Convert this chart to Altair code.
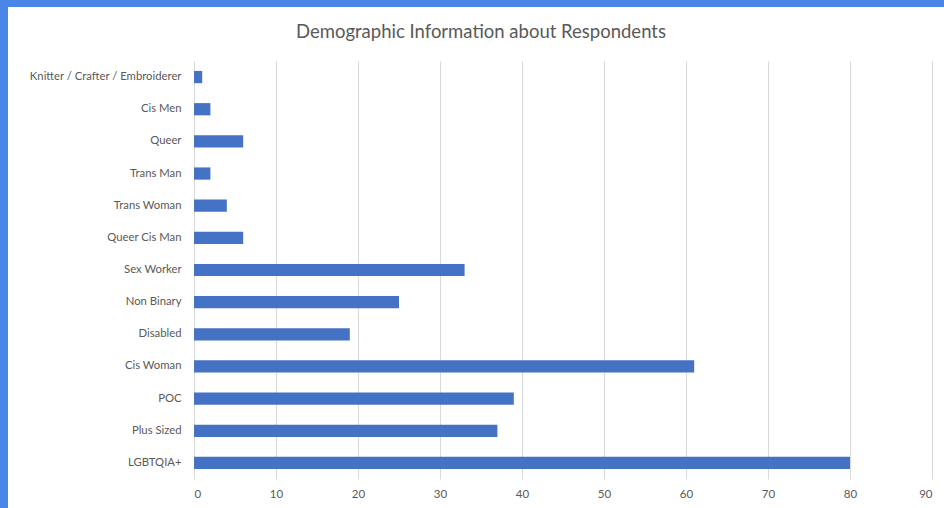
import altair as alt
import pandas as pd

categories = ["Knitter / Crafter / Embroiderer", "Cis Men", "Queer", "Trans Man", "Trans Woman",
              "Queer Cis Man", "Sex Worker", "Non Binary", "Disabled", "Cis Woman", "POC",
              "Plus Sized", "LGBTQIA+"]
counts = [1, 2, 6, 2, 4, 6, 33, 25, 19, 61, 39, 37, 80]
x_ticks = [0, 10, 20, 30, 40, 50, 60, 70, 80, 90]

df = pd.DataFrame({"category": categories, "count": counts})

FONT = "Lato"
GRAY = "#595959"

bars = alt.Chart(df).mark_bar(color="#4472C4").encode(
    x=alt.X("count:Q", scale=alt.Scale(domain=[0, 90], nice=False),
            axis=alt.Axis(values=x_ticks, title=None, grid=True, gridColor="#d9d9d9",
                          domain=False, ticks=False, labelColor=GRAY, labelFont=FONT,
                          labelFontSize=11.5, labelPadding=9)),
    y=alt.Y("category:N", sort=categories,
            scale=alt.Scale(paddingInner=0.62, paddingOuter=0.31),
            axis=alt.Axis(title=None, domain=False, ticks=False, labelColor=GRAY,
                          labelFont=FONT, labelFontSize=11.3, labelPadding=13, labelLimit=300)),
)

frame = pd.DataFrame({"k": [0]})
left_band = alt.Chart(frame).mark_rect(color="#4a86e8").encode(
    x=alt.value(-194), x2=alt.value(-186), y=alt.value(-61), y2=alt.value(447))
top_band = alt.Chart(frame).mark_rect(color="#4a86e8").encode(
    x=alt.value(-194), x2=alt.value(750), y=alt.value(-61), y2=alt.value(-54))

chart = alt.layer(bars, left_band, top_band).properties(
    width=738, height=418,
    autosize=alt.AutoSizeParams(type="none"),
    padding={"left": 194, "top": 61, "right": 12, "bottom": 29},
    background="white",
    title=alt.TitleParams("Demographic Information about Respondents", font=FONT, fontSize=18.5,
                          fontWeight="normal", color=GRAY, anchor="middle", offset=-41,
                          dx=-82),
).configure_view(stroke=None)

chart.save("out.html", embed_options={"renderer": "svg", "actions": False})
